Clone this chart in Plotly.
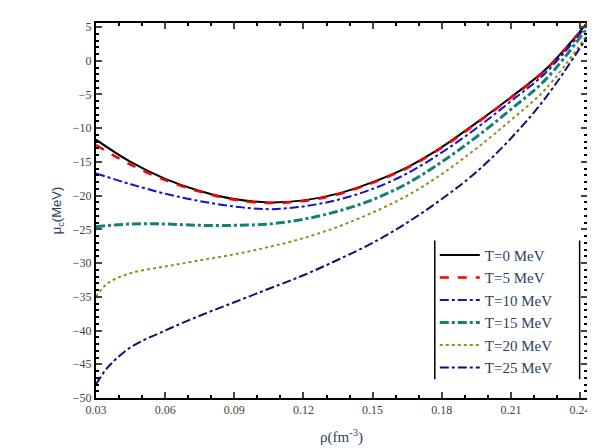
import plotly.graph_objects as go

rho = [0.03, 0.045, 0.06, 0.075, 0.09, 0.105, 0.12, 0.135, 0.15, 0.165, 0.18, 0.195, 0.21, 0.225, 0.243]
mu_t0 = [-11.7, -15.0, -17.5, -19.3, -20.5, -21.0, -20.7, -19.7, -18.0, -15.8, -12.8, -9.2, -5.4, -1.3, 5.6]
mu_t5 = [-12.5, -15.4, -17.7, -19.4, -20.6, -21.1, -20.8, -19.8, -18.1, -15.9, -12.9, -9.3, -5.5, -1.4, 5.5]
mu_t10 = [-16.7, -18.3, -19.7, -20.8, -21.6, -22.0, -21.6, -20.6, -19.0, -16.7, -13.6, -10.0, -6.0, -1.8, 5.3]
mu_t15 = [-24.6, -24.2, -24.2, -24.4, -24.4, -24.2, -23.5, -22.3, -20.6, -18.2, -15.0, -11.3, -7.2, -2.8, 4.8]
rho_t20 = [0.03, 0.035, 0.045, 0.06, 0.075, 0.09, 0.105, 0.12, 0.135, 0.15, 0.165, 0.18, 0.195, 0.21, 0.225, 0.243]
mu_t20 = [-35.0, -33.0, -31.5, -30.5, -29.6, -28.7, -27.6, -26.3, -24.6, -22.5, -20.0, -16.8, -13.0, -8.8, -4.2, 3.8]
mu_t25 = [-48.0, -45.5, -42.5, -40.0, -37.8, -35.8, -33.8, -31.8, -29.5, -27.0, -24.0, -20.5, -16.5, -11.5, -5.5, 3.5]

series = [
    ("T=0 MeV", rho, mu_t0, "black", "solid", 2),
    ("T=5 MeV", rho, mu_t5, "red", "dash", 2.5),
    ("T=10 MeV", rho, mu_t10, "#1010d0", "dashdot", 2),
    ("T=15 MeV", rho, mu_t15, "#138070", "dashdot", 3),
    ("T=20 MeV", rho_t20, mu_t20, "#909020", "dot", 2),
    ("T=25 MeV", rho_t20, mu_t25, "#101070", "dashdot", 2),
]

fig = go.Figure()
for name, x, y, color, dash, w in series:
    fig.add_trace(go.Scatter(x=x, y=y, name=name, mode="lines", line_shape="spline",
                             line=dict(color=color, dash=dash, width=w)))

ax = dict(showline=True, linecolor="black", linewidth=2, mirror="ticks", ticks="inside",
          ticklen=6, tickwidth=2, showgrid=False, zeroline=False,
          minor=dict(ticks="inside", ticklen=3, tickwidth=1.5, tickcolor="black"),
          tickfont=dict(family="Liberation Serif", size=12, color="#444"))
fig.update_xaxes(ax, range=[0.03, 0.243], tickvals=[0.03, 0.06, 0.09, 0.12, 0.15, 0.18, 0.21, 0.24],
                 ticktext=["0.03", "0.06", "0.09", "0.12", "0.15", "0.18", "0.21", "0.24"],
                 title=dict(text="ρ(fm<sup>-3</sup>)", font=dict(family="Liberation Serif", size=15)))
fig.update_yaxes(ax, range=[-50, 5.6], dtick=5,
                 title=dict(text="μ<sub>c</sub>(MeV)", font=dict(family="Liberation Sans", size=13), standoff=8))

fig.add_shape(type="line", xref="paper", yref="paper", x0=0.69, x1=0.69, y0=0.05, y1=0.42,
              line=dict(color="black", width=1.5))
fig.add_shape(type="line", xref="paper", yref="paper", x0=0.985, x1=0.985, y0=0.05, y1=0.42,
              line=dict(color="black", width=1.5))

fig.update_layout(
    width=595, height=448, plot_bgcolor="white", paper_bgcolor="white",
    margin=dict(l=88, r=14, t=15, b=58),
    legend=dict(x=0.69, y=0.425, xanchor="left", yanchor="top", bgcolor="rgba(0,0,0,0)",
                font=dict(family="Liberation Serif", size=15), tracegroupgap=0,
                itemwidth=40),
)
fig.write_html("out.html")
